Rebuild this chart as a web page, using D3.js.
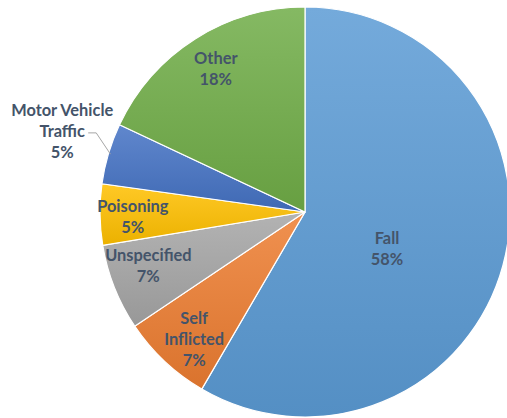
<!DOCTYPE html>
<html>
<head>
<meta charset="utf-8">
<script src="https://cdn.jsdelivr.net/npm/d3@7"></script>
<style>
  body { margin: 0; background: #fff; }
  svg text { font-family: Lato, "Open Sans", sans-serif; font-weight: bold; font-size: 16.4px; fill: #44546a; }
</style>
</head>
<body>
<div id="chart"></div>
<script>
const categories = ['Fall', 'Self Inflicted', 'Unspecified', 'Poisoning', 'Motor Vehicle Traffic', 'Other']
const shares = [58.4, 7.2, 6.8, 4.8, 4.8, 18.0]
const colors = ['#5b9bd5', '#ed7d31', '#a5a5a5', '#ffc000', '#4472c4', '#70ad47']
// label lines as shown in the chart
const labelLines = [['Fall'], ['Self', 'Inflicted'], ['Unspecified'], ['Poisoning'], ['Motor Vehicle', 'Traffic'], ['Other']]

const width = 507
const height = 418
const cx = 305
const cy = 212
const radius = 205

const svg = d3.select('#chart')
  .append('svg')
  .attr('width', width)
  .attr('height', height)

const data = categories.map((c, i) => ({ name: c, value: shares[i], color: colors[i], lines: labelLines[i] }))

const defs = svg.append('defs')
data.forEach((d, i) => {
  const g = defs.append('linearGradient')
    .attr('id', 'grad' + i)
    .attr('x1', 0).attr('y1', 0).attr('x2', 0).attr('y2', 1)
  g.append('stop').attr('offset', '0%').attr('stop-color', d3.interpolateRgb(d.color, '#fff')(0.15))
  g.append('stop').attr('offset', '100%').attr('stop-color', d3.interpolateRgb(d.color, '#000')(0.08))
})

const pie = d3.pie().sort(null).value(d => d.value)
const arc = d3.arc().innerRadius(0).outerRadius(radius)
const arcs = pie(data)

const g = svg.append('g').attr('transform', `translate(${cx},${cy})`)

g.selectAll('path')
  .data(arcs)
  .enter()
  .append('path')
  .attr('d', arc)
  .attr('fill', (d, i) => `url(#grad${i})`)
  .attr('stroke', '#fff')
  .attr('stroke-width', 1.2)

// label radius per slice (fraction of radius); motor vehicle sits outside
const labelRadius = [0.47, 0.74, 0.78, 0.84, 1.2, 0.73]
const labelShift = [[-11, 12], [-7, 17], [-8, -5], [0, 3], [-7, -11], [-9, -17]]

const lineH = 21
arcs.forEach((a, i) => {
  const mid = (a.startAngle + a.endAngle) / 2
  const r = radius * labelRadius[i]
  const x = Math.sin(mid) * r + labelShift[i][0]
  const y = -Math.cos(mid) * r + labelShift[i][1]
  const lines = a.data.lines.concat([Math.round(a.data.value) + '%'])
  const top = y - (lines.length - 1) * lineH / 2
  const t = g.append('text').attr('text-anchor', 'middle')
  lines.forEach((l, j) => {
    t.append('tspan')
      .attr('x', x)
      .attr('y', top + j * lineH)
      .attr('dy', '0.35em')
      .text(l)
  })
  if (i === 4) {
    // leader line from label to slice edge
    const edge = d3.arc().innerRadius(radius * 0.99).outerRadius(radius * 0.99).centroid(a)
    g.append('polyline')
      .attr('points', [[x + 26, top + lineH + 2], [x + 34, top + lineH + 2], edge].map(p => p.join(',')).join(' '))
      .attr('fill', 'none')
      .attr('stroke', '#a6a6a6')
      .attr('stroke-width', 1)
  }
})
</script>
</body>
</html>
